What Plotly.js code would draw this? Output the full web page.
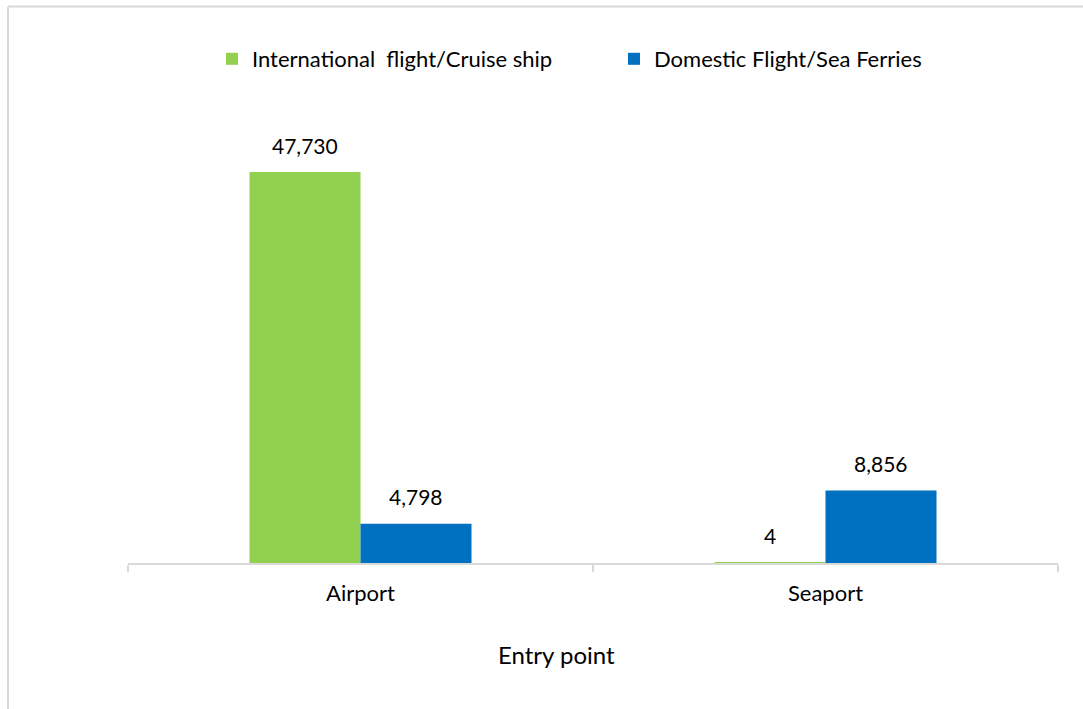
<!DOCTYPE html>
<html>
<head>
<meta charset="utf-8">
<script src="https://cdn.plot.ly/plotly-3.0.1.min.js"></script>
<style>html,body{margin:0;padding:0;background:#fff;}</style>
</head>
<body>
<div id="chart" style="width:1083px;height:709px;"></div>
<script>
const categories = ["Airport", "Seaport"];
const seriesNames = ["International\u00a0 flight/Cruise ship", "Domestic Flight/Sea Ferries"];
const internationalValues = [47730, 4];
const domesticValues = [4798, 8856];
const axisTitle = "Entry point";

const W = 1083, H = 709;
const M = {l: 128, r: 25, t: 110, b: 146};
const plotW = W - M.l - M.r;
const plotH = H - M.t - M.b;
const FONT = "Lato, 'Noto Sans', sans-serif";
const FS = 21;
const bargap = 0.5226;
const catW = plotW / categories.length;
const barW = (1 - bargap) * catW / 2;
const offsets = [-barW / 2, barW / 2];

const colors = ["#92D050", "#0070C0"];
const allSeries = [internationalValues, domesticValues];

const traces = allSeries.map((vals, i) => ({
  type: "bar",
  name: seriesNames[i],
  x: categories,
  y: vals,
  marker: {color: colors[i]},
  hoverinfo: "x+y+name"
}));

const annotations = [];
allSeries.forEach((vals, i) => {
  vals.forEach((v, j) => {
    annotations.push({
      x: categories[j], xref: "x",
      y: v, yref: "y",
      xshift: offsets[i], yshift: 27,
      yanchor: "middle", xanchor: "center",
      text: v.toLocaleString("en-US"),
      showarrow: false,
      font: {family: FONT, size: FS, color: "#000"}
    });
  });
});
annotations.push({
  x: (556 - M.l) / plotW, xref: "paper",
  y: -(654 - (H - M.b)) / plotH, yref: "paper",
  xanchor: "center", yanchor: "middle",
  text: axisTitle, showarrow: false,
  font: {family: FONT, size: 24, color: "#000"}
});

const px2x = p => (p - M.l) / plotW;
const px2y = p => (H - M.b - p) / plotH;

const layout = {
  width: W, height: H,
  margin: M,
  paper_bgcolor: "#fff", plot_bgcolor: "#fff",
  barmode: "group",
  bargap: bargap, bargroupgap: 0,
  font: {family: FONT, size: FS, color: "#000"},
  showlegend: true,
  legend: {
    orientation: "h",
    x: px2x(212), xanchor: "left",
    y: px2y(59), yanchor: "middle",
    font: {family: FONT, size: 22, color: "#000"},
    entrywidth: 357, entrywidthmode: "pixels",
    itemwidth: 30,
    bgcolor: "rgba(0,0,0,0)"
  },
  xaxis: {
    type: "category",
    range: [-0.5, 1.5],
    showline: true, linecolor: "#d9d9d9", linewidth: 1.5,
    ticks: "outside", tickson: "boundaries", ticklen: 7, tickcolor: "#d9d9d9", tickwidth: 1.5,
    ticklabelstandoff: 10,
    tickfont: {family: FONT, size: 22, color: "#000"},
    showgrid: false, zeroline: false, fixedrange: true
  },
  yaxis: {
    visible: false,
    range: [0, plotH / 0.008192],
    showgrid: false, zeroline: false, fixedrange: true
  },
  annotations: annotations,
  shapes: [
    {type: "line", xref: "paper", yref: "paper", x0: px2x(8), x1: px2x(1100), y0: px2y(6.5), y1: px2y(6.5), line: {color: "#d9d9d9", width: 2}},
    {type: "line", xref: "paper", yref: "paper", x0: px2x(8), x1: px2x(8), y0: px2y(6.5), y1: px2y(720), line: {color: "#d9d9d9", width: 2}}
  ]
};

Plotly.newPlot("chart", traces, layout, {displayModeBar: false});
</script>
</body>
</html>
